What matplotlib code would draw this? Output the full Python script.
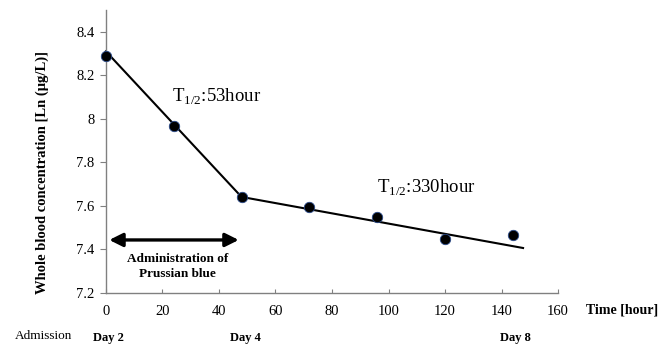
import matplotlib
matplotlib.use("Agg")
import matplotlib.pyplot as plt

hours = [0, 24, 48, 72, 96, 120, 144]
conc = [8.287, 7.968, 7.64, 7.595, 7.548, 7.445, 7.465]
fit1_x = [0, 48]
fit1_y = [8.31, 7.64]
fit2_x = [48, 147.6]
fit2_y = [7.64, 7.405]
xticks = [0, 20, 40, 60, 80, 100, 120, 140, 160]
yticks = [7.2, 7.4, 7.6, 7.8, 8.0, 8.2, 8.4]
ytick_labels = ["7.2", "7.4", "7.6", "7.8", "8", "8.2", "8.4"]
day_labels = ["Day 2", "Day 4", "Day 8"]
day_hours = [0, 48.5, 144]

serif = ["Liberation Serif", "DejaVu Serif"]
plt.rcParams['font.family'] = serif
plt.rcParams['mathtext.fontset'] = 'custom'
plt.rcParams['mathtext.rm'] = 'Liberation Serif'

fig = plt.figure(figsize=(6.7, 3.45), dpi=100)
ax = fig.add_axes([0.158, 0.152, 0.675, 0.819])
ax.set_xlim(0, 160)
ax.set_ylim(7.2, 8.5)
ax.spines['top'].set_visible(False)
ax.spines['right'].set_visible(False)
for s in ('left', 'bottom'):
    ax.spines[s].set_color('#808080')
    ax.spines[s].set_linewidth(1.0)
ax.set_xticks(xticks)
ax.set_xticklabels([str(v) for v in xticks], fontsize=10.5)
ax.set_yticks(yticks)
ax.set_yticklabels(ytick_labels, fontsize=10.5)
ax.tick_params(axis='x', direction='in', length=3, color='#808080', pad=9)
ax.tick_params(axis='y', direction='out', length=4, color='#808080', pad=4)

ax.plot(fit1_x, fit1_y, color='black', lw=1.5, clip_on=False)
ax.plot(fit2_x, fit2_y, color='black', lw=1.5, clip_on=False)
ax.plot(hours, conc, 'o', color='black', markersize=7.5, markeredgecolor='#2a4a8a',
        markeredgewidth=0.6, clip_on=False, zorder=5)

ax.annotate('', xy=(1.2, 7.442), xytext=(47, 7.442),
            arrowprops=dict(arrowstyle='<|-|>', color='black', lw=2.4,
                            mutation_scale=20, shrinkA=0, shrinkB=0))
ax.text(25.5, 7.318, "Administration of\nPrussian blue", ha='center', va='center',
        fontsize=9.5, fontweight='bold', linespacing=1.35)

ax.text(23.4, 8.102, r"T$_{\mathregular{1/2}}$:53hour", fontsize=13.5, va='center', ha='left')
ax.text(96, 7.682, r"T$_{\mathregular{1/2}}$:330hour", fontsize=13.5, va='center', ha='left')

fig.text(0.063, 0.50, "Whole blood concentration [Ln (\u03bcg/L)]", fontsize=10.5,
         fontweight='bold', rotation=90, ha='center', va='center')

fig.text(586 / 670, 1 - 310 / 345, "Time [hour]", fontsize=10, fontweight='bold',
         ha='left', va='center')
fig.text(15 / 670, 1 - 336 / 345, "Admission", fontsize=9.5, ha='left', va='center')
for lbl, h in zip(day_labels, day_hours):
    ax.annotate(lbl, xy=(h, 0), xycoords=('data', 'axes fraction'), xytext=(1.5, -32.5),
                textcoords='offset points', fontsize=9, fontweight='bold',
                ha='center', va='center')

fig.savefig("out.png", dpi=100)
